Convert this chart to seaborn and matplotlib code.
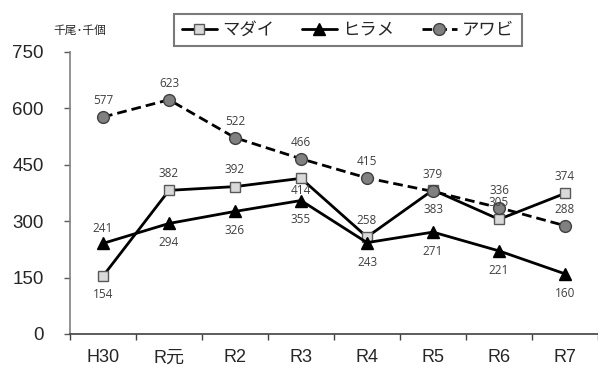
import seaborn as sns
import matplotlib.pyplot as plt
import pandas as pd

# data
years = ["H30", "R元", "R2", "R3", "R4", "R5", "R6", "R7"]
madai = [154, 382, 392, 414, 258, 383, 305, 374]
hirame = [241, 294, 326, 355, 243, 271, 221, 160]
awabi = [577, 623, 522, 466, 415, 379, 336, 288]
series_names = ["マダイ", "ヒラメ", "アワビ"]
unit_label = "千尾･千個"
y_ticks = [0, 150, 300, 450, 600, 750]

# label offsets in points (positive = above the point)
madai_off = [-13, 12, 12, -9, 12, -14, 12, 12]
hirame_off = [11, -14, -14, -14, -14, -14, -14, -14]
awabi_off = [12, 12, 12, 12, 12, 12, 12, 12]

sns.set_theme(style="white")
plt.rcParams['font.family'] = ['Liberation Sans', 'Noto Sans CJK JP']

df = pd.DataFrame({"year": years, series_names[0]: madai,
                   series_names[1]: hirame, series_names[2]: awabi})

fig = plt.figure(figsize=(5.98, 3.65), dpi=100)
ax = fig.add_axes([70 / 598, 31 / 365, 528 / 598, 282 / 365])

styles = {
    "マダイ": dict(marker="s", markersize=7.5, markerfacecolor="#d9d9d9",
                 markeredgecolor="#595959", linestyle="-"),
    "ヒラメ": dict(marker="^", markersize=8, markerfacecolor="black",
                 markeredgecolor="black", linestyle="-"),
    "アワビ": dict(marker="o", markersize=8.5, markerfacecolor="#808080",
                 markeredgecolor="#404040", linestyle=(0, (3.5, 1.8))),
}

for name in series_names:
    sns.lineplot(data=df, x="year", y=name, ax=ax, color="black",
                 linewidth=2, label=name, markeredgewidth=1,
                 **styles[name])

label_font = ['Open Sans', 'Noto Sans CJK JP']
for vals, offs in [(madai, madai_off), (hirame, hirame_off), (awabi, awabi_off)]:
    for i, (v, o) in enumerate(zip(vals, offs)):
        ax.annotate(str(v), (i, v), xytext=(0, o), textcoords="offset points",
                    ha="center", va="center", fontsize=8.5, color="#404040",
                    family=label_font)

ax.set_xlim(-0.5, 7.5)
ax.set_ylim(0, 750)
ax.set_yticks(y_ticks)
ax.set_xticks(range(len(years)))
ax.set_xticklabels(years)
ax.set_xticks([i - 0.5 for i in range(len(years) + 1)], minor=True)
ax.tick_params(axis="x", which="major", length=0, labelsize=13, pad=11)
ax.tick_params(axis="x", which="minor", length=4, width=1, color="#404040",
               bottom=True)
ax.tick_params(axis="y", length=4, width=1, color="#595959", left=True,
               labelsize=13.5, pad=15)
ax.set_xlabel(None)
ax.set_ylabel(None)

for s in ["top", "right"]:
    ax.spines[s].set_visible(False)
ax.spines["left"].set_color("#808080")
ax.spines["left"].set_linewidth(1.2)
ax.spines["bottom"].set_color("#404040")
ax.spines["bottom"].set_linewidth(1.2)

fig.text(80 / 598, 1 - 31 / 365, unit_label, ha="center", va="center",
         fontsize=8.5, color="#262626")

ax.get_legend().remove()
handles, labels = ax.get_legend_handles_labels()
leg = fig.legend(handles, labels, loc="center", bbox_to_anchor=(348 / 598, 1 - 30 / 365),
                 ncol=3, fontsize=12.5, handlelength=2.0, handletextpad=0.3,
                 columnspacing=1.6, frameon=True, fancybox=False,
                 borderpad=0.45)
leg.get_frame().set_edgecolor("#595959")
leg.get_frame().set_linewidth(1.5)

plt.savefig("out.png", dpi=100)
